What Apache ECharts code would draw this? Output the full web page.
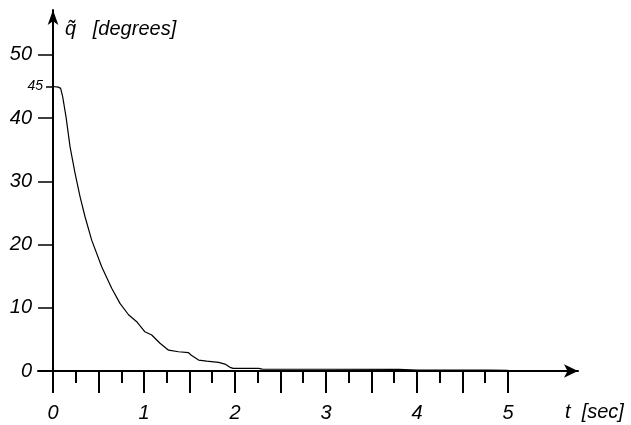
<!DOCTYPE html>
<html>
<head>
  <meta charset="utf-8"/>
  <script src="https://cdn.jsdelivr.net/npm/echarts@6/dist/echarts.min.js"></script>
  <style>
    html, body { margin: 0; padding: 0; background: #fff; }
  </style>
</head>
<body>
  <div id="chartmain" style="width:631px; height:425px;"></div>

  <script type="text/javascript">
    // time [sec] and error angle [degrees]
    var tValues = [0, 0.058, 0.084, 0.106, 0.143, 0.187, 0.242, 0.297, 0.352, 0.425,
                   0.535, 0.645, 0.736, 0.83, 0.92, 1.01, 1.085, 1.176, 1.27, 1.38,
                   1.49, 1.52, 1.6, 1.69, 1.82, 1.89, 1.945, 1.98, 2.26, 2.3,
                   3.0, 3.8, 4.0, 4.8, 5.0];
    var qValues = [45, 44.9, 44.7, 43.4, 40.2, 35.5, 31.3, 27.6, 24.4, 20.7,
                   16.5, 13.1, 10.7, 8.9, 7.8, 6.2, 5.7, 4.4, 3.3, 3.05,
                   2.9, 2.5, 1.74, 1.58, 1.37, 1.1, 0.58, 0.42, 0.42, 0.3,
                   0.28, 0.25, 0.15, 0.15, 0.12];

    var xLabels = [0, 1, 2, 3, 4, 5];
    var xMajorTicks = [0, 0.5, 1, 1.5, 2, 2.5, 3, 3.5, 4, 4.5, 5];
    var xMinorTicks = [0.25, 0.75, 1.25, 1.75, 2.25, 2.75, 3.25, 3.75, 4.25, 4.75];
    var yLabels = [0, 10, 20, 30, 40, 50];
    var yStart = [45];

    var data = [];
    for (var i = 0; i < tValues.length; i++) {
      data.push([tValues[i], qValues[i]]);
    }

    var font = 'Liberation Sans';
    var xMin = -0.165, xMax = 5.77, yMin = -3, yMax = 57.1;

    var option = {
      animation: false,
      grid: { left: 38, right: 53, top: 10, bottom: 35, containLabel: false, outerBoundsMode: 'none' },
      xAxis: [{
        type: 'value', min: xMin, max: xMax, position: 'bottom',
        splitLine: { show: false },
        axisLine: { onZero: true, symbol: ['none', 'arrow'], symbolSize: [10, 14],
                    lineStyle: { color: '#000', width: 2 } },
        axisTick: { customValues: xMajorTicks, length: 22, lineStyle: { color: '#000', width: 2 } },
        axisLabel: { customValues: xLabels, margin: 13, color: '#000',
                     fontFamily: font, fontStyle: 'italic', fontSize: 20 }
      }, {
        type: 'value', min: xMin, max: xMax, position: 'bottom', offset: 0,
        splitLine: { show: false },
        axisLine: { onZero: true, lineStyle: { opacity: 0 } },
        axisTick: { customValues: xMinorTicks, length: 12, lineStyle: { color: '#000', width: 2 } },
        axisLabel: { show: false }
      }],
      yAxis: [{
        type: 'value', min: yMin, max: yMax, position: 'left',
        splitLine: { show: false },
        axisLine: { onZero: true, symbol: ['none', 'arrow'], symbolSize: [8, 15],
                    lineStyle: { color: '#000', width: 2 } },
        axisTick: { customValues: yLabels, length: 15, lineStyle: { color: '#000', width: 1.5 } },
        axisLabel: { customValues: yLabels, margin: 6, color: '#000',
                     fontFamily: font, fontStyle: 'italic', fontSize: 20 }
      }, {
        type: 'value', min: yMin, max: yMax, position: 'left', offset: 0,
        splitLine: { show: false },
        axisLine: { onZero: true, lineStyle: { opacity: 0 } },
        axisTick: { customValues: yStart, length: 7, lineStyle: { color: '#000', width: 1.5 } },
        axisLabel: { customValues: yStart, margin: -5, color: '#000',
                     fontFamily: font, fontStyle: 'italic', fontSize: 14 }
      }],
      graphic: [{
        type: 'text', left: 65, top: 19,
        style: { text: 'q\u0303   [degrees]', fill: '#000', font: 'italic 20px "Liberation Sans"' }
      }, {
        type: 'text', left: 565, top: 402,
        style: { text: 't  [sec]', fill: '#000', font: 'italic 20px "Liberation Sans"' }
      }],
      series: [{
        type: 'line',
        xAxisIndex: 0, yAxisIndex: 0,
        symbol: 'none',
        smooth: false,
        lineStyle: { color: '#000', width: 1.2 },
        data: data
      }]
    };

    var myChart = echarts.init(document.getElementById('chartmain'));
    myChart.setOption(option);
  </script>
</body>
</html>
